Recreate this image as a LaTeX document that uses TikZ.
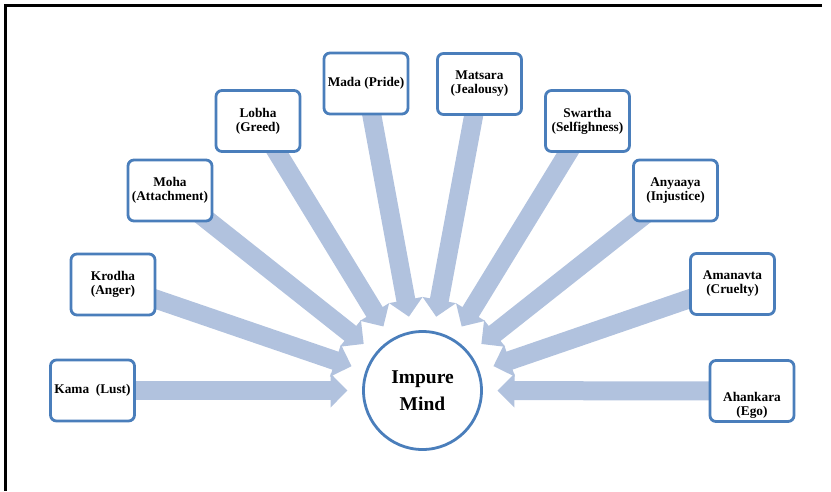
\documentclass[tikz,border=0pt]{standalone}
\usepackage{fontspec}
\setmainfont{Liberation Serif}
\usetikzlibrary{arrows.meta,calc,backgrounds}
\definecolor{boxblue}{RGB}{74,126,187}
\definecolor{arrowblue}{RGB}{177,194,222}
\tikzset{
  vice/.style={draw=boxblue, line width=2.8pt, rounded corners=6pt, fill=white,
    minimum width=84pt, minimum height=61pt, inner sep=0pt, align=center,
    font=\fontsize{13.3}{14}\selectfont\bfseries},
  mindnode/.style={circle, draw=boxblue, line width=2.8pt, fill=white,
    minimum size=118pt, inner sep=0pt, align=center,
    font=\fontsize{19.5}{27}\selectfont\bfseries},
  flow/.style={draw=arrowblue, line width=19pt,
    -{Triangle[length=17pt,width=33pt]}},
  frame/.style={draw=black, line width=2.8pt}
}
\begin{document}
\begin{tikzpicture}[x=1pt,y=-1pt]
  \useasboundingbox (0,0) rectangle (831,491);
  % outer frame: top and left edges only
  \draw[frame] (822,5.8) -- (5.3,5.8) -- (5.3,491);

  % centre
  \node[mindnode] (mind) at (422.5,390.5) {Impure\\Mind};

  % the ten surrounding boxes
  \node[vice] (kama)     at (92.5,390.5) {Kama\ \ (Lust)};
  \node[vice] (krodha)   at (113,284.5)  {Krodha\\(Anger)};
  \node[vice] (moha)     at (170,190.5)  {Moha\\(Attachment)};
  \node[vice] (lobha)    at (258,121)    {Lobha\\(Greed)};
  \node[vice] (mada)     at (366,83.5)   {Mada (Pride)};
  \node[vice] (matsara)  at (479.5,84)   {Matsara\\(Jealousy)};
  \node[vice] (swartha)  at (587.5,121)  {Swartha\\(Selfighness)};
  \node[vice] (anyaaya)  at (675.5,190.5){Anyaaya\\(Injustice)};
  \node[vice] (amanavta) at (732.5,284)  {Amanavta\\(Cruelty)};
  \node[vice] (ahankara) at (752,391)    {};
  \node[font=\fontsize{13.3}{14}\selectfont\bfseries, align=center]
    (ahankaratext) at (752,405.5) {Ahankara\\(Ego)};

  % block arrows pointing into the centre
  \begin{scope}[on background layer]
    \foreach \src in {kama,krodha,moha,lobha,mada,matsara,swartha,anyaaya,amanavta,ahankara}
      \draw[flow] (\src.center) -- ($(mind.center)!75pt!(\src.center)$);
  \end{scope}
\end{tikzpicture}
\end{document}
